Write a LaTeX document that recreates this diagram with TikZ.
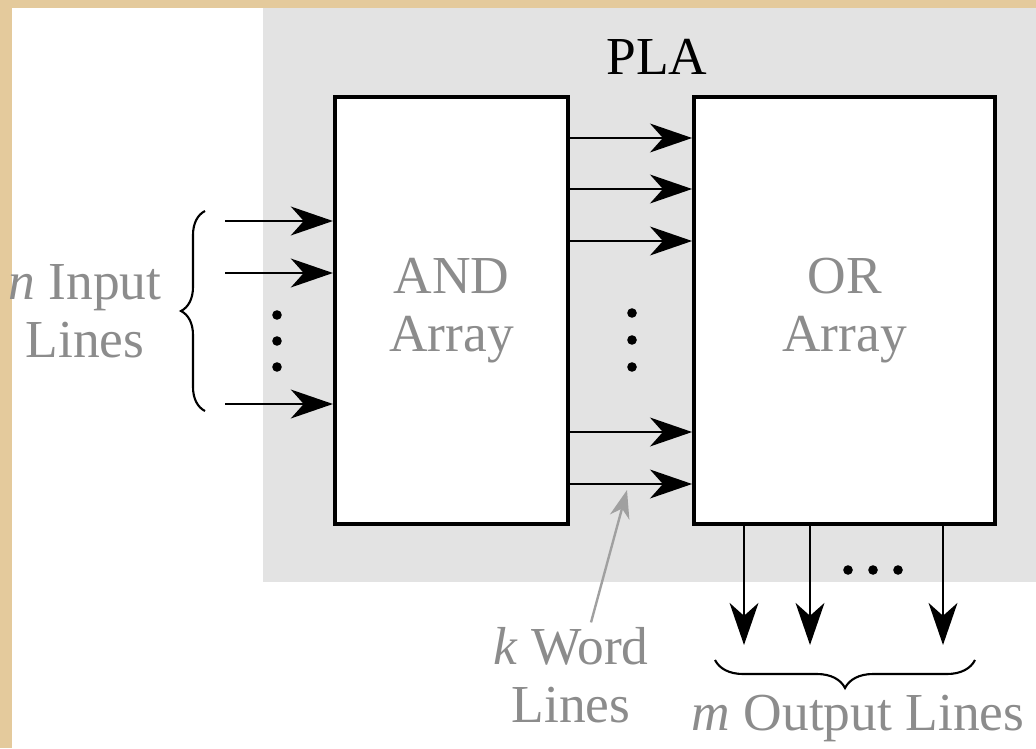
\documentclass[tikz,border=0pt]{standalone}
\usepackage{fontspec}
\setmainfont{Liberation Serif}
\usetikzlibrary{arrows.meta,positioning,decorations.pathreplacing}
\definecolor{parchment}{HTML}{E4CA9C}
\definecolor{plagray}{HTML}{E3E3E3}
\definecolor{labelgray}{HTML}{8C8C8C}
\definecolor{pointergray}{HTML}{A0A0A0}

\begin{document}
\begin{tikzpicture}[x=0.025cm,y=-0.025cm,font=\fontsize{38}{41}\selectfont]
  \tikzset{array/.style={draw, line width=2.9pt, fill=white, align=center, text=labelgray, minimum height=10.675cm, inner sep=0pt},
    wire/.style={line width=2pt, -{Stealth[length=1.05cm, width=0.72cm, inset=0.32cm]}},
    pointer/.style={line width=1.7pt, draw=pointergray, -{Stealth[length=0.7cm, width=0.5cm, inset=0.22cm, fill=pointergray]}},
    bracket/.style={line width=1.5pt, decorate, decoration={brace, amplitude=#1}},
    label/.style={text=labelgray, align=center}}
  % page, paper and PLA block
  \fill[parchment] (0,0) rectangle (1036,748);
  \fill[white] (12,8) rectangle (1036,748);
  \fill[plagray] (263,8) rectangle (1036,582);
  \useasboundingbox (0,0) rectangle (1036,748);
  \node (pla) at (657,57) {PLA};
  \node[array, minimum width=5.825cm] (and) at (451.5,310.5) {AND\\Array};
  \node[array, minimum width=7.525cm, right=3.05cm of and] (or) {OR\\Array};
  % inputs
  \foreach \y/\n in {221/1,273/2,404/3} \coordinate (in\n) at (225,\y);
  \foreach \n in {1,2,3} \draw[wire] (in\n) -- (in\n -| and.west);
  \foreach \y in {315,341,367} \fill (277,\y) circle (0.12cm);
  \draw[bracket=0.6cm] (205,411) -- (205,211);
  \node[label] (inlbl) at (85,311) {\textit{n} Input\\Lines};
  % word lines
  \foreach \y in {138,189,241,432,484} \draw[wire] (and.east |- 0,\y) -- (or.west |- 0,\y);
  \foreach \y in {313,340,367} \fill (632,\y) circle (0.12cm);
  \node[label] (kword) at (571,675) {\textit{k} Word\\Lines};
  \coordinate (ktip) at (627,490);
  \draw[pointer] ([xshift=0.5cm]kword.north) -- (ktip);
  % outputs
  \foreach \x/\n in {744/1,810/2,943/3} \coordinate (out\n) at (\x,645);
  \foreach \n in {1,2,3} \draw[wire] (out\n |- or.south) -- (out\n);
  \foreach \x in {848,873,898} \fill (\x,570) circle (0.12cm);
  \draw[bracket=0.7cm] (975,660) -- (715,660);
  \node[label] (outlbl) at (858,718) {\textit{m} Output Lines};
\end{tikzpicture}
\end{document}
